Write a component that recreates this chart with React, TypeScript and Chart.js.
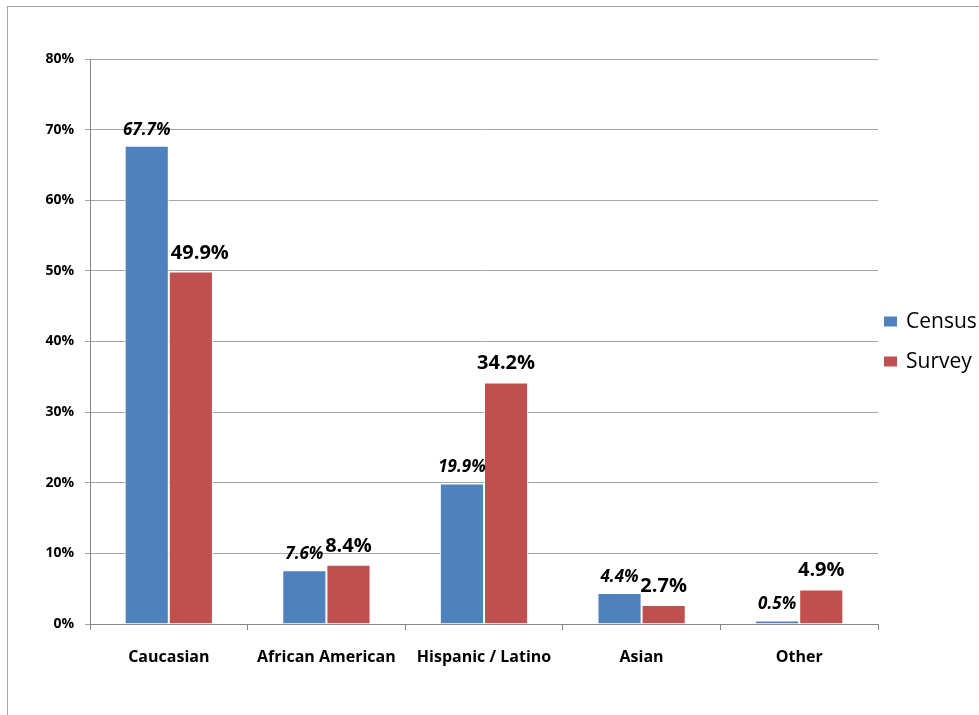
import React, { useEffect, useRef } from "react";
import { Chart, registerables } from "chart.js";

Chart.register(...registerables);

const categories = ["Caucasian", "African American", "Hispanic / Latino", "Asian", "Other"];
const censusValues = [67.7, 7.6, 19.9, 4.4, 0.5];
const surveyValues = [49.9, 8.4, 34.2, 2.7, 4.9];
const seriesNames = ["Census", "Survey"];
const seriesColors = ["#4F81BD", "#C0504D"];
const yTickLabels = ["0%", "10%", "20%", "30%", "40%", "50%", "60%", "70%", "80%"];

const FONT = "'Open Sans', Lato, sans-serif";

// Value labels above each bar: Census in bold italic, Survey in bold upright.
// The Caucasian survey label sits a little to the right of its bar.
const valueLabelPlugin = {
  id: "valueLabels",
  afterDatasetsDraw(chart: any) {
    const ctx = chart.ctx;
    const shifts: Record<string, number> = { "1:0": 9 };
    ctx.save();
    ctx.fillStyle = "#000";
    ctx.textAlign = "center";
    ctx.textBaseline = "alphabetic";
    chart.data.datasets.forEach((ds: any, di: number) => {
      const meta = chart.getDatasetMeta(di);
      const italic = di === 0;
      ctx.font = italic ? `italic bold 17px ${FONT}` : `bold 20px ${FONT}`;
      const gap = italic ? 11 : 13;
      meta.data.forEach((bar: any, i: number) => {
        const v = ds.data[i];
        const dx = shifts[`${di}:${i}`] || 0;
        ctx.fillText(v.toFixed(1) + "%", bar.x + dx, bar.y - gap);
      });
    });
    ctx.restore();
  },
};

// Legend on the right, vertically centred on the plot area.
const sideLegendPlugin = {
  id: "sideLegend",
  afterDraw(chart: any) {
    const ctx = chart.ctx;
    const area = chart.chartArea;
    const mid = (area.top + area.bottom) / 2;
    const spacing = 40;
    const n = chart.data.datasets.length;
    ctx.save();
    ctx.font = `21px ${FONT}`;
    ctx.textAlign = "left";
    ctx.textBaseline = "middle";
    chart.data.datasets.forEach((ds: any, i: number) => {
      const cy = mid + (i - (n - 1) / 2) * spacing;
      const x0 = area.right + 6;
      ctx.fillStyle = ds.backgroundColor;
      ctx.fillRect(x0, cy - 5, 13, 10);
      ctx.fillStyle = "#000";
      ctx.fillText(ds.label, x0 + 22, cy + 1);
    });
    ctx.restore();
  },
};

export default function App() {
  const canvasRef = useRef<HTMLCanvasElement | null>(null);

  useEffect(() => {
    if (!canvasRef.current) return;
    const chart = new Chart(canvasRef.current, {
      type: "bar",
      data: {
        labels: categories,
        datasets: [
          {
            label: seriesNames[0],
            data: censusValues,
            backgroundColor: seriesColors[0],
            borderColor: "#ffffff",
            borderWidth: 1,
            categoryPercentage: 0.56,
            barPercentage: 1,
          },
          {
            label: seriesNames[1],
            data: surveyValues,
            backgroundColor: seriesColors[1],
            borderColor: "#ffffff",
            borderWidth: 1,
            categoryPercentage: 0.56,
            barPercentage: 1,
          },
        ],
      },
      options: {
        animation: false,
        responsive: false,
        maintainAspectRatio: false,
        layout: { padding: { left: 0, top: 59, right: 101, bottom: 0 } },
        plugins: {
          legend: { display: false },
          tooltip: { enabled: false },
        },
        scales: {
          x: {
            offset: true,
            grid: {
              display: true,
              drawOnChartArea: false,
              drawTicks: true,
              tickLength: 6,
              color: "#868686",
              offset: true,
            },
            border: { color: "#868686", width: 1 },
            ticks: {
              color: "#000",
              font: { family: FONT, size: 16, weight: "bold" },
              padding: 18,
              maxRotation: 0,
              autoSkip: false,
            },
            afterFit: (scale: any) => {
              scale.height = 91;
            },
          },
          y: {
            min: 0,
            max: 80,
            grid: {
              color: "#a6a6a6",
              drawTicks: true,
              tickLength: 5,
            },
            border: { color: "#868686", width: 1 },
            ticks: {
              stepSize: 10,
              color: "#000",
              font: { family: FONT, size: 14, weight: "bold" },
              padding: 11,
              callback: (_v: any, i: number) => yTickLabels[i],
            },
            afterFit: (scale: any) => {
              scale.width = 90;
            },
          },
        },
      },
      plugins: [valueLabelPlugin, sideLegendPlugin],
    });
    return () => chart.destroy();
  }, []);

  return (
    <div
      style={{
        position: "fixed",
        left: 0,
        top: 0,
        width: 979,
        height: 715,
        overflow: "hidden",
        background: "#fff",
      }}
    >
      <div
        style={{
          position: "absolute",
          left: 7,
          top: 6,
          width: 1100,
          height: 800,
          border: "1px solid #a6a6a6",
        }}
      />
      <canvas
        ref={canvasRef}
        width={979}
        height={715}
        style={{ position: "absolute", left: 0, top: 0, width: 979, height: 715 }}
      />
    </div>
  );
}
